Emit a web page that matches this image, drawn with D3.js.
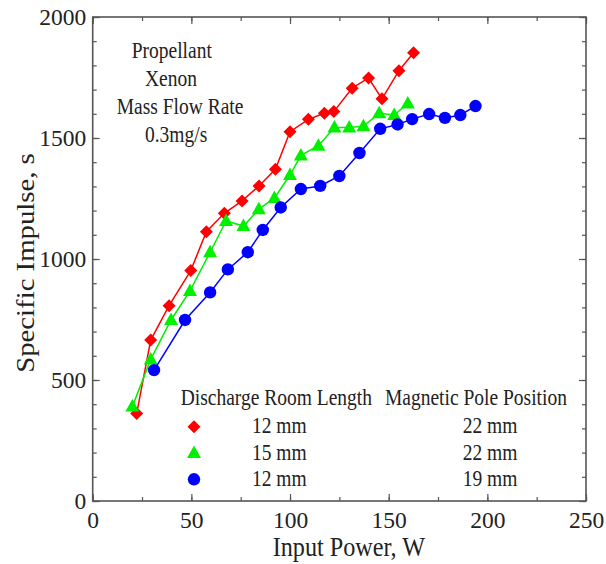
<!DOCTYPE html>
<html>
<head>
<meta charset="utf-8">
<script src="https://cdn.jsdelivr.net/npm/d3@7"></script>
<style>
  html, body { margin: 0; padding: 0; background: #fff; }
  svg { display: block; font-family: "Liberation Serif", "Times New Roman", serif; }
</style>
</head>
<body>
<svg id="chart" width="606" height="564"></svg>
<script>
// Specific impulse vs. input power for three thruster configurations
const redPower = [22.3, 29.4, 38.7, 49.7, 57.6, 66.7, 75.7, 84.3, 92.6, 100, 109.3, 117.4, 122.2, 131.5, 139.8, 146.6, 155.2, 162.6];
const redIsp   = [362, 665, 807, 952, 1113, 1189, 1240, 1302, 1371, 1526, 1577, 1602, 1609, 1706, 1748, 1662, 1778, 1852];

const greenPower = [20.1, 29.4, 39.7, 49.3, 59.5, 67.6, 76.4, 84.2, 92.1, 100, 105.5, 114.4, 122.5, 130, 137.2, 145.2, 152.8, 159.7];
const greenIsp   = [390, 585, 748, 868, 1028, 1157, 1136, 1206, 1252, 1347, 1428, 1468, 1543, 1543, 1549, 1602, 1595, 1643];

const bluePower = [31.1, 46.8, 59.5, 68.5, 78.6, 86.2, 95.3, 105.5, 115.3, 125, 135.2, 145.7, 154.5, 161.9, 170.5, 178.5, 186.3, 194];
const blueIsp   = [541, 748, 862, 957, 1028, 1120, 1213, 1289, 1302, 1343, 1438, 1538, 1556, 1578, 1599, 1583, 1595, 1632];

const xTicks = [0, 50, 100, 150, 200, 250];
const yTicks = [0, 500, 1000, 1500, 2000];

const legendLength = ["12 mm", "15 mm", "12 mm"];
const legendPole   = ["22 mm", "22 mm", "19 mm"];
const noteLines = ["Propellant", "Xenon", "Mass Flow Rate", "0.3mg/s"];

const series = [
  { power: redPower,   isp: redIsp,   color: "#ff0000", shape: "diamond" },
  { power: greenPower, isp: greenIsp, color: "#00f000", shape: "triangle" },
  { power: bluePower,  isp: blueIsp,  color: "#0000ff", shape: "circle" }
];

const svg = d3.select("#chart");
const plotLeft = 92.7, plotRight = 586, plotTop = 17, plotBottom = 501;
const textColor = "#222";
const stretch = 1.15;   // lettering is drawn slightly tall

const x = d3.scaleLinear().domain([0, 250]).range([plotLeft, plotRight]);
const y = d3.scaleLinear().domain([0, 2000]).range([plotBottom, plotTop]);

const axisColor = "#555";

// tick marks on all four sides, pointing inward
function tickAxis(axisFn, scale, values, size, transform) {
  const g = svg.append("g").attr("transform", transform)
    .call(axisFn(scale).tickValues(values).tickSize(size).tickFormat(""));
  g.select(".domain").remove();
  g.selectAll("line").attr("stroke", axisColor).attr("stroke-width", 1.2);
  return g;
}
const xMinor = d3.range(0, 251, 25);
const yMinor = d3.range(0, 2001, 100);
tickAxis(d3.axisTop, x, xMinor, 4, `translate(0,${plotBottom})`);
tickAxis(d3.axisTop, x, xTicks, 7, `translate(0,${plotBottom})`);
tickAxis(d3.axisBottom, x, xMinor, 4, `translate(0,${plotTop})`);
tickAxis(d3.axisBottom, x, xTicks, 7, `translate(0,${plotTop})`);
tickAxis(d3.axisRight, y, yMinor, 4, `translate(${plotLeft},0)`);
tickAxis(d3.axisRight, y, yTicks, 7, `translate(${plotLeft},0)`);
tickAxis(d3.axisLeft, y, yMinor, 4, `translate(${plotRight},0)`);
tickAxis(d3.axisLeft, y, yTicks, 7, `translate(${plotRight},0)`);

// frame
svg.append("rect")
  .attr("x", plotLeft).attr("y", plotTop)
  .attr("width", plotRight - plotLeft).attr("height", plotBottom - plotTop)
  .attr("fill", "none").attr("stroke", axisColor).attr("stroke-width", 1.6);

// tick labels
const fmt = d3.format("d");
const xLab = svg.append("g").attr("transform", `translate(0,${plotBottom})`)
  .call(d3.axisBottom(x).tickValues(xTicks).tickFormat(fmt).tickSize(0).tickPadding(10));
xLab.select(".domain").remove();
xLab.selectAll("text").attr("font-size", 23.5).attr("font-family", "Liberation Serif").attr("fill", textColor);

const yLab = svg.append("g").attr("transform", `translate(${plotLeft},0)`)
  .call(d3.axisLeft(y).tickValues(yTicks).tickFormat(fmt).tickSize(0).tickPadding(6.5));
yLab.select(".domain").remove();
yLab.selectAll("text").attr("font-size", 23.5).attr("font-family", "Liberation Serif").attr("fill", textColor);

// stretched text helper
function label(tx, ty, str, size, anchor, sy) {
  return svg.append("text")
    .attr("transform", `translate(${tx},${ty}) scale(1,${sy || stretch})`)
    .attr("text-anchor", anchor || "start")
    .attr("font-size", size).attr("fill", textColor)
    .text(str);
}

// axis titles
label(272.7, 556, "Input Power, W", 24.2, "start", 1.1);
svg.append("text")
  .attr("transform", `translate(34,263) scale(1,${stretch}) rotate(-90)`)
  .attr("text-anchor", "middle").attr("font-size", 25).attr("fill", textColor)
  .text("Specific Impulse, s");

// markers
function drawMarker(g, shape, color) {
  if (shape === "circle") {
    g.append("circle").attr("r", 6.2).attr("fill", color);
  } else if (shape === "triangle") {
    g.append("path").attr("d", "M0,-7.5L7,5L-7,5Z").attr("fill", color);
  } else {
    g.append("path").attr("d", "M0,-6.5L6.5,0L0,6.5L-6.5,0Z").attr("fill", color);
  }
}

const line = d3.line().x(d => x(d[0])).y(d => y(d[1]));
series.forEach(s => {
  const pts = s.power.map((p, i) => [p, s.isp[i]]);
  svg.append("path").datum(pts)
    .attr("d", line).attr("fill", "none")
    .attr("stroke", s.color).attr("stroke-width", 1.5);
  pts.forEach(p => {
    const g = svg.append("g").attr("transform", `translate(${x(p[0])},${y(p[1])})`);
    drawMarker(g, s.shape, s.color);
  });
});

// note block
const noteX = [131.7, 145, 116.7, 145];
noteLines.forEach((t, i) => {
  label(noteX[i], 58.3 + i * 27.8, t, 19.5);
});

// legend
label(180.7, 405, "Discharge Room Length", 19.5);
label(385, 405, "Magnetic Pole Position", 19.5);
series.forEach((s, i) => {
  const ly = 426.7 + i * 26.3;
  const g = svg.append("g").attr("transform", `translate(194,${ly})`);
  drawMarker(g, s.shape, s.color);
  label(252, ly + 6.5, legendLength[i], 19.5);
  label(462.7, ly + 6.5, legendPole[i], 19.5);
});
</script>
</body>
</html>
